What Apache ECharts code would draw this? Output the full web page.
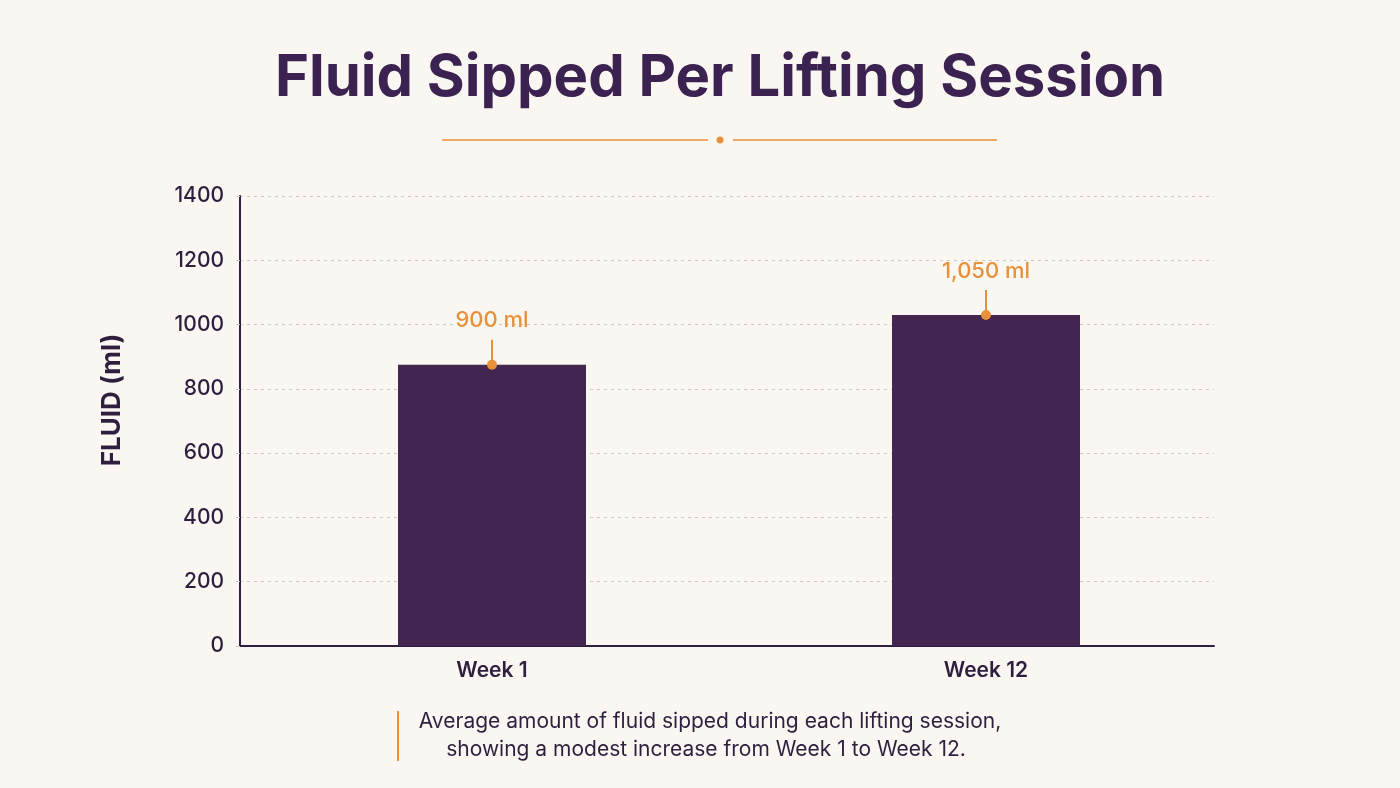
<!DOCTYPE html>
<html>
<head>
<meta charset="utf-8">
<script src="https://cdn.jsdelivr.net/npm/echarts@6/dist/echarts.min.js"></script>
<style>
html,body{margin:0;padding:0;background:#faf7f2;}
#c{width:1400px;height:788px;}
</style>
</head>
<body>
<div id="c"></div>
<script>
// ---- data ----
var categories = ['Week 1', 'Week 12'];
var barValues = [875, 1030];          // bar heights as drawn
var labelTexts = ['900 ml', '1,050 ml']; // annotation labels as printed
var yTicks = [0, 200, 400, 600, 800, 1000, 1200, 1400];
var titleText = 'Fluid Sipped Per Lifting Session';
var yAxisName = 'FLUID (ml)';
var captionLines = ['Average amount of fluid sipped during each lifting session,', 'showing a modest increase from Week 1 to Week 12.'];

var DARK = '#2e1f3e';
var BAR = '#43264f';
var ORANGE = '#e8913a';
var FONT = 'Inter';

var chart = echarts.init(document.getElementById('c'), null, {renderer: 'canvas'});

var annot = categories.map(function (c, i) { return [i, barValues[i], labelTexts[i]]; });
var yMin = yTicks[0], yMax = yTicks[yTicks.length - 1], yStep = yTicks[1] - yTicks[0];

var option = {
  backgroundColor: '#faf7f2',
  animation: false,
  grid: [
    {left: 240, right: 186, top: 196, bottom: 142},
    {left: 245, right: 167, top: 196, bottom: 142}
  ],
  xAxis: [
    {
      type: 'category', gridIndex: 0,
      data: categories,
      axisLine: {show: true, lineStyle: {color: DARK, width: 2}},
      axisTick: {show: false},
      axisLabel: {show: false}
    },
    {
      type: 'category', gridIndex: 1,
      data: categories,
      axisLine: {show: false},
      axisTick: {show: false},
      axisLabel: {fontFamily: FONT, fontSize: 21, fontWeight: 600, color: DARK, margin: 14}
    }
  ],
  yAxis: [
    {
      type: 'value', gridIndex: 0,
      min: yMin, max: yMax, interval: yStep,
      axisLine: {show: true, lineStyle: {color: DARK, width: 2}},
      axisTick: {show: true, length: 4, lineStyle: {color: '#cfc8c0', width: 1}},
      axisLabel: {fontFamily: FONT, fontSize: 21, fontWeight: 500, color: DARK, margin: 16,
        formatter: function (v) { return String(v); }},
      splitLine: {show: true, lineStyle: {color: '#cdc8c2', type: [3, 4], width: 1}}
    },
    {
      type: 'value', gridIndex: 1,
      min: yMin, max: yMax, interval: yStep,
      show: false,
      splitLine: {show: false}
    }
  ],
  series: [
    {
      type: 'bar',
      xAxisIndex: 1, yAxisIndex: 1,
      data: barValues,
      barWidth: 188,
      itemStyle: {color: BAR},
      z: 2
    },
    {
      type: 'custom',
      xAxisIndex: 1, yAxisIndex: 1,
      data: annot,
      z: 5,
      renderItem: function (params, api) {
        var p = api.coord([api.value(0), api.value(1)]);
        var txt = annot[params.dataIndex][2];
        return {
          type: 'group',
          children: [
            {type: 'line', shape: {x1: p[0], y1: p[1] - 25, x2: p[0], y2: p[1]}, style: {stroke: ORANGE, lineWidth: 2}},
            {type: 'circle', shape: {cx: p[0], cy: p[1], r: 5}, style: {fill: ORANGE}},
            {type: 'text', x: p[0], y: p[1] - 44, style: {text: txt, fill: ORANGE, font: '500 22px ' + FONT, textAlign: 'center', textVerticalAlign: 'middle'}}
          ]
        };
      }
    }
  ],
  graphic: [
    {type: 'text', x: 720, y: 79,
      style: {text: titleText, fill: '#3b2250', font: '700 58px ' + FONT, textAlign: 'center', textVerticalAlign: 'middle'}},
    {type: 'line', shape: {x1: 442, y1: 140, x2: 708, y2: 140}, style: {stroke: ORANGE, lineWidth: 1.5}},
    {type: 'line', shape: {x1: 733, y1: 140, x2: 997, y2: 140}, style: {stroke: ORANGE, lineWidth: 1.5}},
    {type: 'circle', shape: {cx: 720, cy: 140, r: 3.5}, style: {fill: ORANGE}},
    {type: 'text', x: 112, y: 400, rotation: Math.PI / 2,
      style: {text: yAxisName, fill: DARK, font: '700 26px ' + FONT, textAlign: 'center', textVerticalAlign: 'middle'}},
    {type: 'rect', shape: {x: 397, y: 711, width: 2, height: 50}, style: {fill: ORANGE}},
    {type: 'text', x: 710, y: 722, style: {text: captionLines[0], fill: DARK, font: '400 21px ' + FONT, textAlign: 'center', textVerticalAlign: 'middle'}},
    {type: 'text', x: 706, y: 750, style: {text: captionLines[1], fill: DARK, font: '400 21px ' + FONT, textAlign: 'center', textVerticalAlign: 'middle'}}
  ]
};
chart.setOption(option);
</script>
</body>
</html>
